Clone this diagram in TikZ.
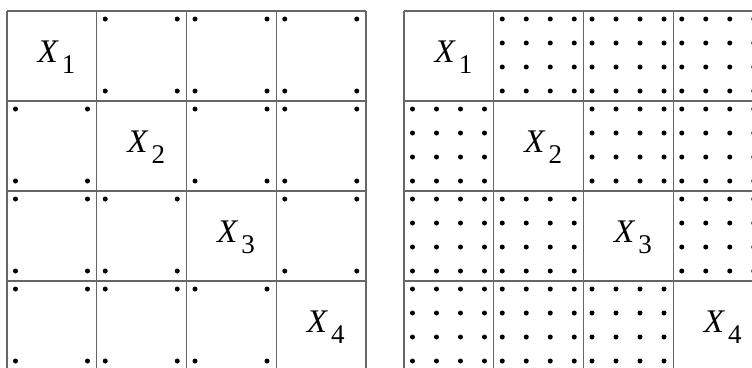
\documentclass[tikz,border=0pt]{standalone}
\usepackage{fontspec}
\setmainfont{Liberation Serif}
\begin{document}
\begin{tikzpicture}[x=1pt,y=-1pt,
  gridline/.style={draw=black!60,line width=1.2pt},
  dotmark/.style={fill=black},
  lab/.style={inner sep=0pt}]
\useasboundingbox (0,0) rectangle (752,367);
\clip (0,0) rectangle (752,367);
% grids
\foreach \ox in {7,404} {
  \foreach \i in {0,...,4} {
    \draw[gridline] ({\ox+\i*89.75}, 11) -- ({\ox+\i*89.75}, 380);
    \draw[gridline] (\ox, {11+\i*90}) -- ({\ox+4*89.75}, {11+\i*90});
  }
}
% left grid: corner dots
\foreach \r in {0,...,3} {
  \foreach \c in {0,...,3} {
    \ifnum\r=\c\else
      \foreach \dx in {8.5,80.5} {
        \foreach \dy in {8,80} {
          \fill[dotmark] ({7+\c*89.75+\dx}, {11+\r*90+\dy}) circle (2.5);
        }
      }
    \fi
  }
}
% right grid: 4x4 dots
\foreach \r in {0,...,3} {
  \foreach \c in {0,...,3} {
    \ifnum\r=\c\else
      \foreach \dx in {8.5,32.5,56.5,80.5} {
        \foreach \dy in {8,32,56,80} {
          \fill[dotmark] ({404+\c*89.75+\dx}, {11+\r*90+\dy}) circle (2.5);
        }
      }
    \fi
  }
}
% labels
\foreach \k in {1,...,4} {
  \node[lab] (L\k) at ({7+(\k-1)*89.75+49.5}, {11+(\k-1)*90+46}) {{\fontsize{33}{33}\selectfont\itshape X}\kern4pt\raisebox{-11pt}{\fontsize{27}{27}\selectfont \k}};
  \node[lab] (R\k) at ({404+(\k-1)*89.75+49.5}, {11+(\k-1)*90+46}) {{\fontsize{33}{33}\selectfont\itshape X}\kern4pt\raisebox{-11pt}{\fontsize{27}{27}\selectfont \k}};
}
\end{tikzpicture}
\end{document}
